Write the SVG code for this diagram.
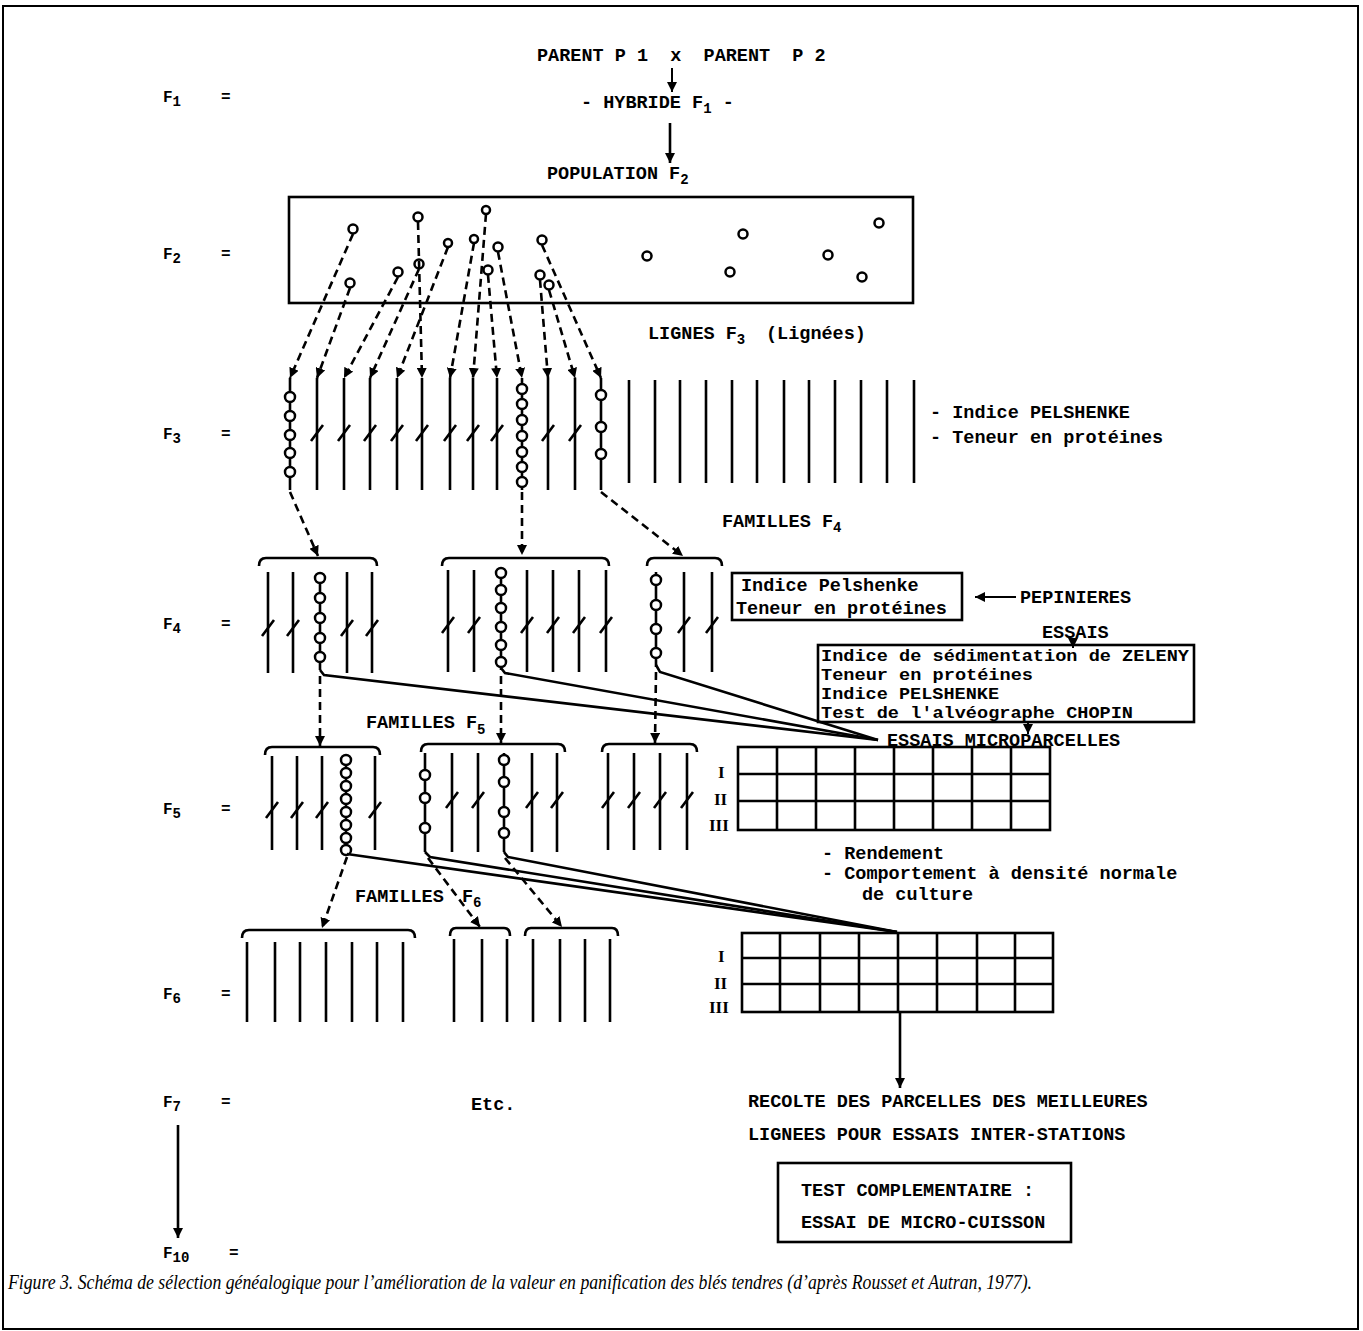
<svg xmlns="http://www.w3.org/2000/svg" width="1363" height="1331" viewBox="0 0 1363 1331">
<defs>
<style>
.t{font-family:"Liberation Mono","DejaVu Sans Mono",monospace;font-weight:bold;font-size:18.5px;fill:#000}
.b{font-size:16px}
.r{font-family:"Liberation Serif","DejaVu Serif",serif;font-weight:bold;font-size:17px;fill:#000}
.s{font-size:14px}
.lab{font-family:"Liberation Mono","DejaVu Sans Mono",monospace;font-weight:bold;font-size:16px;fill:#000}
.ln{stroke:#000;stroke-width:2.6;fill:none}
.thin{stroke:#000;stroke-width:2;fill:none}
.dash{stroke:#000;stroke-width:2.6;stroke-dasharray:8 5;fill:none}
.c{fill:#fff;stroke:#000;stroke-width:2.5}
.cap{font-family:"Liberation Serif","DejaVu Serif",serif;font-style:italic;font-size:21px;fill:#000}
</style>
<marker id="ah" viewBox="0 0 10 10" refX="10" refY="5" markerWidth="10" markerHeight="10" markerUnits="userSpaceOnUse" orient="auto">
<path d="M0,0 L10,5 L0,10 z" fill="#000"/>
</marker>
</defs>
<rect x="3" y="6" width="1355" height="1323" fill="none" stroke="#000" stroke-width="2"/>

<g id="left-labels">
<text class="lab" x="163" y="102">F<tspan class="s" dy="4">1</tspan></text><text class="lab" x="221" y="102">=</text>
<text class="lab" x="163" y="259">F<tspan class="s" dy="4">2</tspan></text><text class="lab" x="221" y="259">=</text>
<text class="lab" x="163" y="439">F<tspan class="s" dy="4">3</tspan></text><text class="lab" x="221" y="439">=</text>
<text class="lab" x="163" y="629">F<tspan class="s" dy="4">4</tspan></text><text class="lab" x="221" y="629">=</text>
<text class="lab" x="163" y="814">F<tspan class="s" dy="4">5</tspan></text><text class="lab" x="221" y="814">=</text>
<text class="lab" x="163" y="999">F<tspan class="s" dy="4">6</tspan></text><text class="lab" x="221" y="999">=</text>
<text class="lab" x="163" y="1107">F<tspan class="s" dy="4">7</tspan></text><text class="lab" x="221" y="1107">=</text>
<text class="lab" x="163" y="1258">F<tspan class="s" dy="4">10</tspan></text><text class="lab" x="229" y="1258">=</text>
</g>

<g id="top">
<text class="t" x="537" y="61" xml:space="preserve">PARENT P 1  x  PARENT  P 2</text>
<text class="t" x="581" y="108">- HYBRIDE F<tspan class="s" dy="5">1</tspan><tspan dy="-5"> -</tspan></text>
<text class="t" x="547" y="179">POPULATION F<tspan class="s" dy="5">2</tspan></text>
</g>

<g id="f2-box">
<rect x="289" y="197" width="624" height="106" class="ln"/>
<circle class="c" cx="353" cy="229" r="4.5"/>
<circle class="c" cx="350" cy="283" r="4.5"/>
<circle class="c" cx="398" cy="272" r="4.5"/>
<circle class="c" cx="419" cy="264" r="4.5"/>
<circle class="c" cx="448" cy="243" r="4"/>
<circle class="c" cx="418" cy="217" r="4.5"/>
<circle class="c" cx="474" cy="239" r="4"/>
<circle class="c" cx="486" cy="210" r="4"/>
<circle class="c" cx="488" cy="270" r="4.5"/>
<circle class="c" cx="498" cy="247" r="4.5"/>
<circle class="c" cx="540" cy="275" r="4.5"/>
<circle class="c" cx="549" cy="285" r="4.5"/>
<circle class="c" cx="542" cy="240" r="4.5"/>
<circle class="c" cx="647" cy="256" r="4.5"/>
<circle class="c" cx="743" cy="234" r="4.5"/>
<circle class="c" cx="879" cy="223" r="4.5"/>
<circle class="c" cx="730" cy="272" r="4.5"/>
<circle class="c" cx="828" cy="255" r="4.5"/>
<circle class="c" cx="862" cy="277" r="4.5"/>
</g>

<g id="f3-lines">
<text class="t" x="648" y="339">LIGNES F<tspan class="s" dy="5">3</tspan></text>
<text class="t" x="766" y="339">(Lignées)</text>
<path class="ln" d="M290,378V490 M317,378V490 M344,378V490 M370,378V490 M397,378V490 M422,378V490 M450,378V490 M473,378V490 M497,378V490 M522,378V490 M548,378V490 M575,378V490 M601,378V490"/>
<path class="ln" d="M629,380V483 M655,380V483 M680,380V483 M706,380V483 M732,380V483 M757,380V483 M784,380V483 M809,380V483 M835,380V483 M861,380V483 M887,380V483 M914,380V483"/>
<path class="ln" d="M311,441L323,425 M338,441L350,425 M364,441L376,425 M391,441L403,425 M416,441L428,425 M444,441L456,425 M467,441L479,425 M491,441L503,425 M542,441L554,425 M569,441L581,425"/>
<circle class="c" cx="290" cy="397" r="5"/><circle class="c" cx="290" cy="416" r="5"/><circle class="c" cx="290" cy="435" r="5"/><circle class="c" cx="290" cy="453" r="5"/><circle class="c" cx="290" cy="472" r="5"/>
<circle class="c" cx="522" cy="389" r="5"/><circle class="c" cx="522" cy="404" r="5"/><circle class="c" cx="522" cy="420" r="5"/><circle class="c" cx="522" cy="436" r="5"/><circle class="c" cx="522" cy="452" r="5"/><circle class="c" cx="522" cy="467" r="5"/><circle class="c" cx="522" cy="482" r="5"/>
<circle class="c" cx="601" cy="395" r="5"/><circle class="c" cx="601" cy="427" r="5"/><circle class="c" cx="601" cy="454" r="5"/>
<text class="t" x="930" y="418">- Indice PELSHENKE</text>
<text class="t" x="930" y="443">- Teneur en protéines</text>
</g>

<g id="f4-families">
<text class="t" x="722" y="527">FAMILLES F<tspan class="s" dy="5">4</tspan></text>
<path class="ln" d="M259,566Q259,558 266,558H370Q377,558 377,566"/>
<path class="ln" d="M442,566Q442,558 449,558H602Q609,558 609,566"/>
<path class="ln" d="M647,566Q647,558 654,558H715Q722,558 722,566"/>
<path class="ln" d="M268,572V673 M293,572V673 M320,572V670 M347,572V673 M372,572V673"/>
<path class="ln" d="M448,570V672 M474,570V672 M501,570V670 M527,570V672 M553,570V672 M579,570V672 M606,570V672"/>
<path class="ln" d="M656,572V667 M684,572V672 M712,572V672"/>
<path class="ln" d="M262,636L274,620 M287,636L299,620 M341,636L353,620 M366,636L378,620"/>
<path class="ln" d="M442,633L454,617 M468,633L480,617 M521,633L533,617 M547,633L559,617 M573,633L585,617 M600,633L612,617"/>
<path class="ln" d="M678,633L690,617 M706,633L718,617"/>
<circle class="c" cx="320" cy="578" r="5"/><circle class="c" cx="320" cy="598" r="5"/><circle class="c" cx="320" cy="618" r="5"/><circle class="c" cx="320" cy="638" r="5"/><circle class="c" cx="320" cy="657" r="5"/>
<circle class="c" cx="501" cy="573" r="5"/><circle class="c" cx="501" cy="590" r="5"/><circle class="c" cx="501" cy="608" r="5"/><circle class="c" cx="501" cy="627" r="5"/><circle class="c" cx="501" cy="645" r="5"/><circle class="c" cx="501" cy="662" r="5"/>
<circle class="c" cx="656" cy="580" r="5"/><circle class="c" cx="656" cy="605" r="5"/><circle class="c" cx="656" cy="629" r="5"/><circle class="c" cx="656" cy="653" r="5"/>
</g>

<g id="pepinieres">
<rect x="732" y="573" width="230" height="47" class="ln"/>
<text class="t" x="741" y="591">Indice Pelshenke</text>
<text class="t" x="736" y="614">Teneur en protéines</text>
<text class="t" x="1020" y="603">PEPINIERES</text>
</g>

<g id="essais">
<text class="t" x="1042" y="638">ESSAIS</text>
<rect x="818" y="645" width="376" height="77" class="ln"/>
<text class="t b" x="821" y="661" textLength="368" lengthAdjust="spacingAndGlyphs">Indice de sédimentation de ZELENY</text>
<text class="t b" x="821" y="680" textLength="212" lengthAdjust="spacingAndGlyphs">Teneur en protéines</text>
<text class="t b" x="821" y="699" textLength="178" lengthAdjust="spacingAndGlyphs">Indice PELSHENKE</text>
<text class="t b" x="821" y="718" textLength="312" lengthAdjust="spacingAndGlyphs">Test de l'alvéographe CHOPIN</text>
<text class="t" x="887" y="746">ESSAIS MICROPARCELLES</text>
</g>

<g id="f5-families">
<text class="t" x="366" y="728">FAMILLES F<tspan class="s" dy="6">5</tspan></text>
<path class="ln" d="M265,755Q265,747 272,747H373Q380,747 380,755"/>
<path class="ln" d="M421,752Q421,744 428,744H558Q565,744 565,752"/>
<path class="ln" d="M602,752Q602,744 609,744H690Q697,744 697,752"/>
<path class="ln" d="M272,756V850 M297,756V850 M322,756V850 M346,756V850 M375,756V850"/>
<path class="ln" d="M425,753V852 M452,753V852 M478,753V852 M504,753V852 M532,753V852 M557,753V852"/>
<path class="ln" d="M608,753V850 M634,753V850 M660,753V850 M687,753V850"/>
<path class="ln" d="M266,818L278,802 M291,818L303,802 M316,818L328,802 M369,818L381,802"/>
<path class="ln" d="M446,808L458,792 M472,808L484,792 M526,808L538,792 M551,808L563,792"/>
<path class="ln" d="M602,808L614,792 M628,808L640,792 M654,808L666,792 M681,808L693,792"/>
<circle class="c" cx="346" cy="760" r="5"/><circle class="c" cx="346" cy="773" r="5"/><circle class="c" cx="346" cy="786" r="5"/><circle class="c" cx="346" cy="799" r="5"/><circle class="c" cx="346" cy="812" r="5"/><circle class="c" cx="346" cy="825" r="5"/><circle class="c" cx="346" cy="838" r="5"/><circle class="c" cx="346" cy="850" r="5"/>
<circle class="c" cx="425" cy="775" r="5"/><circle class="c" cx="425" cy="798" r="5"/><circle class="c" cx="425" cy="828" r="5"/>
<circle class="c" cx="504" cy="760" r="5"/><circle class="c" cx="504" cy="782" r="5"/><circle class="c" cx="504" cy="812" r="5"/><circle class="c" cx="504" cy="833" r="5"/>
</g>

<g id="grid-1">
<rect x="738" y="747" width="312" height="83" class="ln"/>
<path class="ln" d="M777,747V830 M816,747V830 M855,747V830 M894,747V830 M933,747V830 M972,747V830 M1011,747V830"/>
<path class="ln" d="M738,774H1050 M738,801H1050"/>
<text class="r" x="718" y="778">I</text>
<text class="r" x="714" y="805">II</text>
<text class="r" x="709" y="831">III</text>
<text class="t" x="822" y="859">- Rendement</text>
<text class="t" x="822" y="879">- Comportement à densité normale</text>
<text class="t" x="862" y="900">de culture</text>
</g>

<g id="f6-families">
<text class="t" x="355" y="902">FAMILLES</text>
<text class="t" x="462" y="902">F<tspan class="s" dy="5">6</tspan></text>
<path class="ln" d="M242,938Q242,930 249,930H408Q415,930 415,938"/>
<path class="ln" d="M450,936Q450,928 456,928H504Q510,928 510,936"/>
<path class="ln" d="M525,936Q525,928 531,928H612Q618,928 618,936"/>
<path class="ln" d="M247,942V1022 M275,942V1022 M300,942V1022 M326,942V1022 M352,942V1022 M377,942V1022 M403,942V1022"/>
<path class="ln" d="M454,939V1022 M482,939V1022 M507,939V1022"/>
<path class="ln" d="M533,939V1022 M560,939V1022 M585,939V1022 M610,939V1022"/>
</g>

<g id="grid-2">
<rect x="742" y="933" width="311" height="79" class="ln"/>
<path class="ln" d="M780,933V1012 M820,933V1012 M859,933V1012 M898,933V1012 M937,933V1012 M977,933V1012 M1015,933V1012"/>
<path class="ln" d="M742,958H1053 M742,984H1053"/>
<text class="r" x="718" y="962">I</text>
<text class="r" x="714" y="989">II</text>
<text class="r" x="709" y="1013">III</text>
</g>

<g id="bottom">
<text class="t" x="471" y="1110">Etc.</text>
<text class="t" x="748" y="1107">RECOLTE DES PARCELLES DES MEILLEURES</text>
<text class="t" x="748" y="1140">LIGNEES POUR ESSAIS INTER-STATIONS</text>
<rect x="778" y="1163" width="293" height="79" class="ln"/>
<text class="t" x="801" y="1196">TEST COMPLEMENTAIRE :</text>
<text class="t" x="801" y="1228">ESSAI DE MICRO-CUISSON</text>
</g>

<g id="connectors">
<path class="thin" d="M672,68V92" marker-end="url(#ah)"/>
<path class="ln" d="M670,123V163" marker-end="url(#ah)"/>
<path class="dash" d="M353,234L290,378" marker-end="url(#ah)"/>
<path class="dash" d="M350,288L317,378" marker-end="url(#ah)"/>
<path class="dash" d="M398,277L344,378" marker-end="url(#ah)"/>
<path class="dash" d="M419,269L370,378" marker-end="url(#ah)"/>
<path class="dash" d="M448,247L397,378" marker-end="url(#ah)"/>
<path class="dash" d="M418,222L422,378" marker-end="url(#ah)"/>
<path class="dash" d="M474,243L450,378" marker-end="url(#ah)"/>
<path class="dash" d="M486,214L473,378" marker-end="url(#ah)"/>
<path class="dash" d="M488,275L497,378" marker-end="url(#ah)"/>
<path class="dash" d="M498,252L522,378" marker-end="url(#ah)"/>
<path class="dash" d="M540,280L548,378" marker-end="url(#ah)"/>
<path class="dash" d="M549,290L575,378" marker-end="url(#ah)"/>
<path class="dash" d="M542,245L601,378" marker-end="url(#ah)"/>
<path class="dash" d="M290,492L318,556" marker-end="url(#ah)"/>
<path class="dash" d="M522,492L522,555" marker-end="url(#ah)"/>
<path class="dash" d="M601,492L683,556" marker-end="url(#ah)"/>
<path class="dash" d="M320,676L320,746" marker-end="url(#ah)"/>
<path class="dash" d="M501,676L501,743" marker-end="url(#ah)"/>
<path class="dash" d="M656,672L655,743" marker-end="url(#ah)"/>
<path class="dash" d="M347,857L322,928" marker-end="url(#ah)"/>
<path class="dash" d="M428,858L480,927" marker-end="url(#ah)"/>
<path class="dash" d="M505,858L562,927" marker-end="url(#ah)"/>
<path class="ln" d="M320,670L324,675L878,740"/>
<path class="ln" d="M501,668L505,673L878,740"/>
<path class="ln" d="M656,665L660,672L878,740"/>
<path class="ln" d="M347,854L897,932"/>
<path class="ln" d="M425,852L430,857L897,932"/>
<path class="ln" d="M504,852L508,857L897,932"/>
<path class="thin" d="M1016,597H975" marker-end="url(#ah)"/>
<path class="thin" d="M1073,638V648" marker-end="url(#ah)"/>
<path class="thin" d="M1028,722V734" marker-end="url(#ah)"/>
<path class="ln" d="M900,1012V1088" marker-end="url(#ah)"/>
<path class="ln" d="M178,1125V1238" marker-end="url(#ah)"/>
</g>

<text class="cap" x="8" y="1289" textLength="1024" lengthAdjust="spacingAndGlyphs">Figure 3. Schéma de sélection généalogique pour l’amélioration de la valeur en panification des blés tendres (d’après Rousset et Autran, 1977).</text>
</svg>
